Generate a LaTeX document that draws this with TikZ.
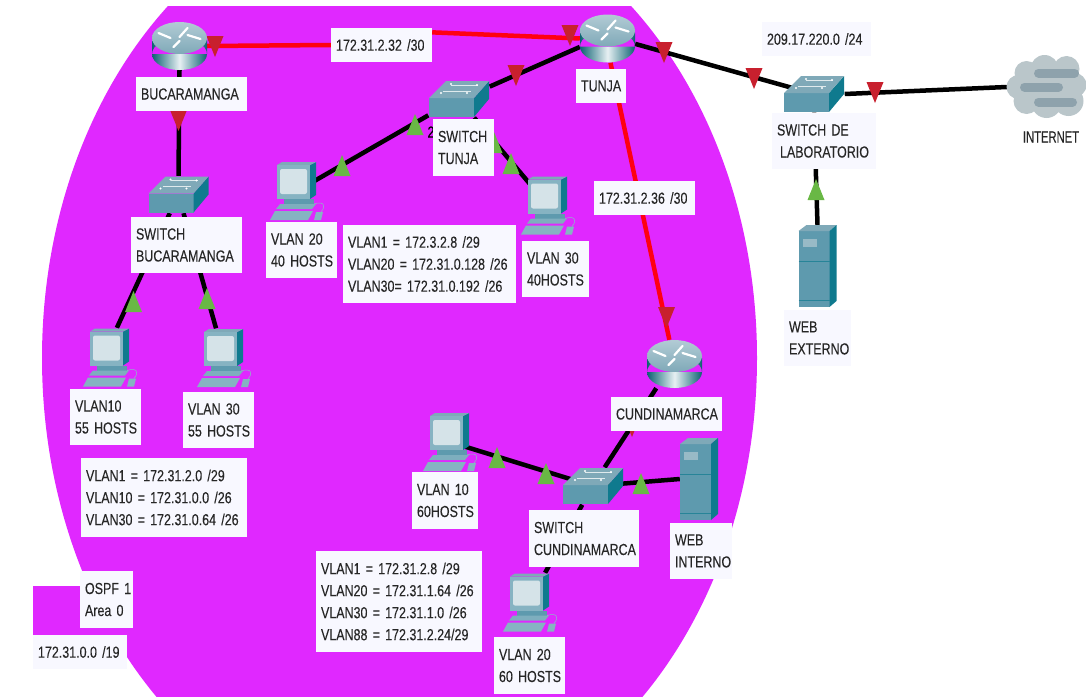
\documentclass[tikz,border=0pt]{standalone}
\usepackage{fontspec}
\setmainfont[FakeStretch=0.78,FakeBold=0.15]{Liberation Sans}
\definecolor{areac}{HTML}{E028FF}
\definecolor{labc}{HTML}{F8F8FF}
\definecolor{txtc}{HTML}{262626}
\definecolor{redl}{HTML}{FF0012}
\definecolor{trired}{HTML}{C8202E}
\definecolor{trigreen}{HTML}{69B845}
\definecolor{facec}{HTML}{5E9AAE}
\definecolor{sidec}{HTML}{0F7A8E}
\definecolor{topc}{HTML}{7FA9B8}
\definecolor{scrc}{HTML}{D5E3E8}
\definecolor{cloudc}{HTML}{BAC6CA}
\definecolor{barc}{HTML}{8EA2AC}
\newcommand{\trid}[2]{\fill[trired] (#1,#2) -- ++(-8.5,-21) -- ++(17,0) -- cycle;}
\newcommand{\triu}[2]{\fill[trigreen] (#1,#2) -- ++(-8.5,21) -- ++(17,0) -- cycle;}
\newcommand{\labfont}{\fontsize{16}{22}\selectfont\spaceskip=5.2pt\relax\hyphenpenalty=10000\relax}
\tikzset{
  lab/.style n args={2}{fill=labc,text=txtc,align=flush left,inner xsep=5pt,inner ysep=0pt,
    minimum width=#1pt,minimum height=#2pt,text width=#1pt-10pt,
    font=\labfont},
  dev/.style n args={2}{inner sep=0pt,minimum width=#1pt,minimum height=#2pt},
  blk/.style={line width=4.5pt,black},
  rdl/.style={line width=4.5pt,redl},
  routericon/.pic={
    \path[shade,left color=sidec!80!black,right color=sidec!80!black,middle color=white!85!facec]
      (-27.5,-6) rectangle (27.5,8) (0,8) ellipse [x radius=27.5,y radius=16];
    \path[shade,top color=topc!60!white,bottom color=topc] (0,-8) ellipse [x radius=27.5,y radius=16];
    \draw[white,line width=2.2pt,line cap=round]
      (-21,-13)--(-9,-8) (8,-18)--(0,-9) (21,-7)--(8,-11) (-6,1)--(0,-5);
  },
  switchicon/.pic={
    \fill[facec] (-30,-1) -- (15,-1) -- (15,18) -- (-30,18) -- cycle;
    \fill[sidec] (15,-1) -- (30,-18) -- (30,0) -- (15,18) -- cycle;
    \fill[topc] (-30,-1) -- (-13,-18) -- (30,-18) -- (15,-1) -- cycle;
    \draw[white!75!topc,line width=.8pt] (-16,-8)--(12,-8) (-8,-14)--(19,-14);
    \fill[white] (-18,-6) circle (1.2) (-8,-15) circle (1.2) (18,-14) circle (1.2) (8,-6) circle (1.2);
  },
  pcicon/.pic={
    \fill[sidec] (13,-26) -- (19,-29) -- (19,4) -- (13,8) -- cycle;
    \fill[topc] (-20,-26) -- (-15,-29) -- (19,-29) -- (13,-26) -- cycle;
    \fill[facec!75!white] (-20,-26) rectangle (13,8);
    \fill[scrc,rounded corners=2pt] (-17,-22) rectangle (10,3);
    \fill[facec] (-13,8) rectangle (17,13);
    \fill[facec!80!white] (-17,13) -- (19,13) -- (15,18) -- (-21,18) -- cycle;
    \fill[facec!75!white] (-22,20) -- (16,20) -- (11,29) -- (-27,29) -- cycle;
    \fill[facec!75!white] (19,21) -- (26,21) -- (24,29) -- (17,29) -- cycle;
    \draw[facec!70!white,line width=.5pt] (17,13) .. controls (26,10) and (30,14) .. (24,21);
  },
  servericon/.pic={
    \fill[facec] (-19,-35) rectangle (12,41);
    \fill[topc] (-19,-35) -- (-11,-41) -- (19,-41) -- (12,-35) -- cycle;
    \fill[sidec] (12,-35) -- (19,-41) -- (19,35) -- (12,41) -- cycle;
    \fill[topc!80!white] (-15,-27) rectangle (-1,-19);
    \draw[sidec!70!facec,line width=.6pt] (-19,-5) -- (12,-5) (-19,34) -- (12,34);
  },
  cloudicon/.pic={
    \fill[cloudc] (-28,0) circle (12) (-20,-14) circle (12) (-2,-18) circle (14) (20,-18) circle (13)
      (28,-2) circle (12) (22,14) circle (15) (0,16) circle (15) (-20,14) circle (13) (0,0) circle (22);
    \draw[barc,line width=9pt,line cap=round] (-8,-14)--(28,-14) (-22,0)--(12,0) (-8,15)--(26,15);
  }
}
\begin{document}
\begin{tikzpicture}[x=1pt,y=-1pt]
\useasboundingbox (0,0) rectangle (1086,696);
\begin{scope}
\clip (0,6) rectangle (1086,696);
\fill[areac] (399.5,358) ellipse [x radius=357.5,y radius=462];
\end{scope}
\fill[areac] (33,586) rectangle (125,640);
% device places
\node[dev={55}{48}] (r1) at (179.5,46) {};
\node[dev={55}{48}] (rt) at (607.5,38.5) {};
\node[dev={55}{48}] (rc) at (674.5,364) {};
\node[dev={61}{37}] (sb) at (178.5,194.5) {};
\node[dev={61}{37}] (st) at (459,99) {};
\node[dev={61}{37}] (sl) at (814,94) {};
\node[dev={61}{37}] (sc) at (593,486) {};
\node[dev={54}{59}] (p1) at (110,357.5) {};
\node[dev={54}{59}] (p2) at (224,358) {};
\node[dev={54}{59}] (p3) at (297,191) {};
\node[dev={54}{59}] (p4) at (548,205.5) {};
\node[dev={54}{59}] (p5) at (450,442) {};
\node[dev={54}{59}] (p6) at (530,602.5) {};
\node[dev={38}{82}] (se) at (699,479) {};
\node[dev={38}{82}] (sx) at (817.5,266) {};
\node[dev={79}{64}] (cl) at (1046.5,87) {};
% the network label is placed first so that the red link can stop at it
\node[lab={101}{34}] (netA) at (381.5,45) {172.31.2.32 /30};
% connectors
\draw[rdl] (r1.east) -- (netA.west);
\draw[rdl] (netA.14) -- (rt.west);
\draw[rdl] (rt.277) -- (rc.102);
\draw[blk] (r1.south) -- (sb.north);
\draw[blk] (sb.245) -- (p1.77);
\draw[blk] (sb.285) -- (p2.105);
\draw[blk] (rt.197) -- (st.22);
\draw[blk] (st.208) -- (p3.center);
\draw[blk] (st.309) -- (p4.center);
\draw[blk] (rt.349) -- (sl.center);
\draw[blk] (sl.east) -- (cl.west);
\draw[blk] (sx.north) -- (sl.south);
\draw[blk] (rc.233) -- (sc.58);
\draw[blk] (p5.center) -- (sc.center);
\draw[blk] (se.west) -- (sc.center);
\draw[blk] (sc.240) -- (p6.63);
% link lights
\trid{215}{57}\trid{178.5}{131}\trid{570}{46}\trid{516}{86}\trid{664}{63}\trid{754}{89}\trid{875}{103}\trid{666.5}{328}\trid{632}{437}
\triu{133.5}{291}\triu{207}{288}\triu{342}{155}\triu{415}{114}\triu{494}{132}\triu{511}{153}\triu{816}{179}\triu{497}{447}\triu{546}{463}\triu{641}{473}
% icons
\pic at (r1.center) {routericon};
\pic at (rt.center) {routericon};
\pic at (rc.center) {routericon};
\pic at (sb.center) {switchicon};
\pic at (st.center) {switchicon};
\pic at (sl.center) {switchicon};
\pic at (sc.center) {switchicon};
\pic at (p1.center) {pcicon};
\pic at (p2.center) {pcicon};
\pic at (p3.center) {pcicon};
\pic at (p4.center) {pcicon};
\pic at (p5.center) {pcicon};
\pic at (p6.center) {pcicon};
\pic at (se.center) {servericon};
\pic at (sx.center) {servericon};
\pic at (cl.center) {cloudicon};
% labels
\node[text=black,inner sep=0pt,font=\labfont] (frag) at (431,132) {2};
\node[lab={101}{34}] (netAt) at (381.5,45) {172.31.2.32 /30};
\node[lab={111}{34}] (l1) at (191.5,94) {BUCARAMANGA};
\node[lab={111}{56}] (l2) at (186.5,245) {SWITCH\\BUCARAMANGA};
\node[lab={61}{57}] (l3) at (463.5,147.5) {SWITCH\\TUNJA};
\node[lab={71}{56}] (l4) at (301.5,250) {VLAN 20\\\mbox{40 HOSTS}};
\node[lab={173}{78}] (l5) at (429.5,264) {VLAN1 = 172.3.2.8 /29\\VLAN20 = 172.31.0.128 /26\\VLAN30= 172.31.0.192 /26};
\node[lab={67}{56}] (l6) at (555.5,269) {VLAN 30\\40HOSTS};
\node[lab={50}{34}] (l7) at (601,86) {TUNJA};
\node[lab={101}{34}] (l8) at (644.5,198) {172.31.2.36 /30};
\node[lab={109}{34}] (l9) at (816.5,39) {209.17.220.0 /24};
\node[lab={104}{56}] (l10) at (824,141) {SWITCH DE\\\hspace*{3pt}LABORATORIO};
\node[text=txtc,inner sep=0pt,font=\labfont] (l11) at (1051,137) {\scalebox{0.9}[1]{INTERNET}};
\node[lab={67}{56}] (l12) at (817.5,338) {WEB\\EXTERNO};
\node[lab={71}{56}] (l13) at (105.5,417) {VLAN10\\\mbox{55 HOSTS}};
\node[lab={71}{56}] (l14) at (218.5,420) {VLAN 30\\\mbox{55 HOSTS}};
\node[lab={166}{79}] (l15) at (164,497.5) {VLAN1 = 172.31.2.0 /29\\VLAN10 = 172.31.0.0 /26\\VLAN30 = 172.31.0.64 /26};
\node[lab={53}{57}] (l16) at (106.5,599.5) {\mbox{OSPF 1}\\Area 0};
\node[lab={94}{34}] (l17) at (80,652) {172.31.0.0 /19};
\node[lab={166}{101}] (l18) at (399,601.5) {VLAN1 = 172.31.2.8 /29\\VLAN20 = 172.31.1.64 /26\\VLAN30 = 172.31.1.0 /26\\VLAN88 = 172.31.2.24/29};
\node[lab={111}{34}] (l19) at (666.5,414) {CUNDINAMARCA};
\node[lab={66}{57}] (l20) at (445,500.5) {VLAN 10\\60HOSTS};
\node[lab={110}{57}] (l21) at (584,538.5) {SWITCH\\CUNDINAMARCA};
\node[lab={62}{56}] (l22) at (701,551) {WEB\\INTERNO};
\node[lab={71}{57}] (l23) at (529.5,665.5) {VLAN 20\\\mbox{60 HOSTS}};
\end{tikzpicture}
\end{document}
